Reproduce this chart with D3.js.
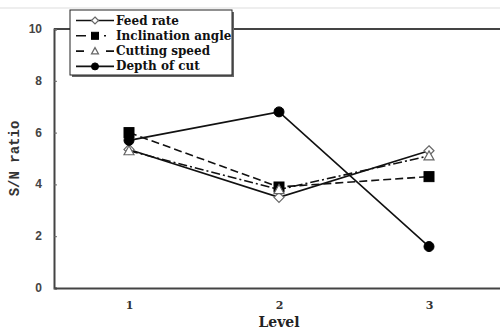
<!DOCTYPE html>
<html>
<head>
  <meta charset="utf-8">
  <title>S/N ratio</title>
  <script src="https://cdn.jsdelivr.net/npm/d3@7/dist/d3.min.js"></script>
  <style>
    body { margin: 0; background: #fff; }
    svg { display: block; }
    .legend text { font-family: "DejaVu Serif", serif; font-weight: bold; font-size: 12px; }
  </style>
</head>
<body>
  <div id="chart"></div>
  <script>
    // data
    const levels = [1, 2, 3]
    const feedRate = [5.35, 3.5, 5.3]
    const inclination = [6.0, 3.9, 4.3]
    const cuttingSpeed = [5.3, 3.8, 5.1]
    const depthOfCut = [5.7, 6.8, 1.6]
    const yTicks = [0, 2, 4, 6, 8, 10]

    const series = [
      { name: 'Feed rate', values: feedRate, dash: null, marker: 'diamond', fill: '#fff' },
      { name: 'Inclination angle', values: inclination, dash: '8,4', marker: 'square', fill: '#000' },
      { name: 'Cutting speed', values: cuttingSpeed, dash: '9,3,2,3', marker: 'triangle', fill: '#fff' },
      { name: 'Depth of cut', values: depthOfCut, dash: null, marker: 'circle', fill: '#000' }
    ]

    const width = 500
    const height = 330

    const x = d3.scaleLinear().domain([0.5, 3.5]).range([54, 504])
    const y = d3.scaleLinear().domain([0, 10]).range([288, 29])

    const svg = d3.select('#chart').append('svg')
      .attr('width', width)
      .attr('height', height)

    // faint line at top of picture
    svg.append('line')
      .attr('x1', 0).attr('x2', width)
      .attr('y1', 8).attr('y2', 8)
      .attr('stroke', '#ddd')

    // top border of plot
    svg.append('line')
      .attr('x1', x(0.5)).attr('x2', width)
      .attr('y1', y(10)).attr('y2', y(10))
      .attr('stroke', '#444').attr('stroke-width', 2)

    // y axis, ticks pointing inside
    const yAxis = svg.append('g')
      .attr('transform', `translate(${x(0.5)},0)`)
      .call(d3.axisRight(y).tickValues(yTicks).tickSize(3).tickFormat(''))
    yAxis.select('.domain').attr('stroke', '#444').attr('stroke-width', 2)
    yAxis.selectAll('.tick line').attr('stroke', '#666')

    svg.append('g').selectAll('text')
      .data(yTicks)
      .enter()
      .append('text')
      .attr('x', 42)
      .attr('y', d => y(d) + 4)
      .attr('text-anchor', 'end')
      .attr('font-family', '"Liberation Sans", Arial, sans-serif')
      .attr('font-weight', 'bold')
      .attr('font-size', 12)
      .attr('fill', '#444')
      .text(d => d)

    // x axis
    const xAxis = svg.append('g')
      .attr('transform', `translate(0,${y(0)})`)
      .call(d3.axisBottom(x).tickValues(levels).tickSize(0).tickPadding(13).tickFormat(d3.format('d')))
    xAxis.select('.domain').attr('stroke', '#444').attr('stroke-width', 2)
    xAxis.selectAll('text')
      .attr('font-family', '"DejaVu Serif", serif')
      .attr('font-weight', 'bold')
      .attr('font-size', 11)
      .attr('fill', '#333')

    svg.append('text')
      .attr('x', x(2))
      .attr('y', 327)
      .attr('text-anchor', 'middle')
      .attr('font-family', '"DejaVu Serif", serif')
      .attr('font-weight', 'bold')
      .attr('font-size', 14)
      .attr('fill', '#222')
      .text('Level')

    svg.append('text')
      .attr('transform', `translate(19,${(y(0) + y(10)) / 2}) rotate(-90)`)
      .attr('text-anchor', 'middle')
      .attr('font-family', '"Liberation Mono", monospace')
      .attr('font-weight', 'bold')
      .attr('font-size', 14)
      .attr('fill', '#333')
      .text('S/N ratio')

    const line = d3.line()
      .x((d, i) => x(levels[i]))
      .y(d => y(d))

    function drawMarker(g, type, fill, size) {
      const s = size / 2
      if (type === 'circle') {
        g.append('circle').attr('r', s).attr('fill', fill).attr('stroke', '#000')
      } else if (type === 'square') {
        g.append('rect').attr('x', -s).attr('y', -s).attr('width', size).attr('height', size)
          .attr('fill', fill).attr('stroke', '#000')
      } else if (type === 'diamond') {
        g.append('path').attr('d', `M0,${-s}L${s},0L0,${s}L${-s},0Z`)
          .attr('fill', fill).attr('stroke', '#666').attr('stroke-width', 1.2)
      } else if (type === 'triangle') {
        g.append('path').attr('d', `M0,${-s}L${s},${s * 0.8}L${-s},${s * 0.8}Z`)
          .attr('fill', fill).attr('stroke', '#666').attr('stroke-width', 1.2)
      }
    }

    // lines
    series.forEach(s => {
      svg.append('path')
        .datum(s.values)
        .attr('d', line)
        .attr('fill', 'none')
        .attr('stroke', '#111')
        .attr('stroke-width', 1.6)
        .attr('stroke-dasharray', s.dash)
    })

    // markers
    series.forEach(s => {
      s.values.forEach((v, i) => {
        const g = svg.append('g').attr('transform', `translate(${x(levels[i])},${y(v)})`)
        drawMarker(g, s.marker, s.fill, 10)
      })
    })

    // legend
    const legend = svg.append('g').attr('class', 'legend')
    legend.append('rect')
      .attr('x', 72).attr('y', 12).attr('width', 162).attr('height', 65)
      .attr('fill', '#666')
    legend.append('rect')
      .attr('x', 70).attr('y', 10).attr('width', 162).attr('height', 65)
      .attr('fill', '#fff').attr('stroke', '#222').attr('stroke-width', 1)

    series.forEach((s, i) => {
      const ly = 20.5 + i * 15.3
      const row = legend.append('g')
      row.append('line')
        .attr('x1', 76).attr('x2', 114)
        .attr('y1', ly).attr('y2', ly)
        .attr('stroke', '#111').attr('stroke-width', 1.6)
        .attr('stroke-dasharray', s.dash ? (s.marker === 'square' ? '10,18,2,8' : '8,22,8') : null)
      const g = row.append('g').attr('transform', `translate(95,${ly})`)
      drawMarker(g, s.marker, s.fill, 7)
      row.append('text')
        .attr('x', 116).attr('y', ly + 4)
        .attr('fill', '#111')
        .text(s.name)
    })
  </script>
</body>
</html>
